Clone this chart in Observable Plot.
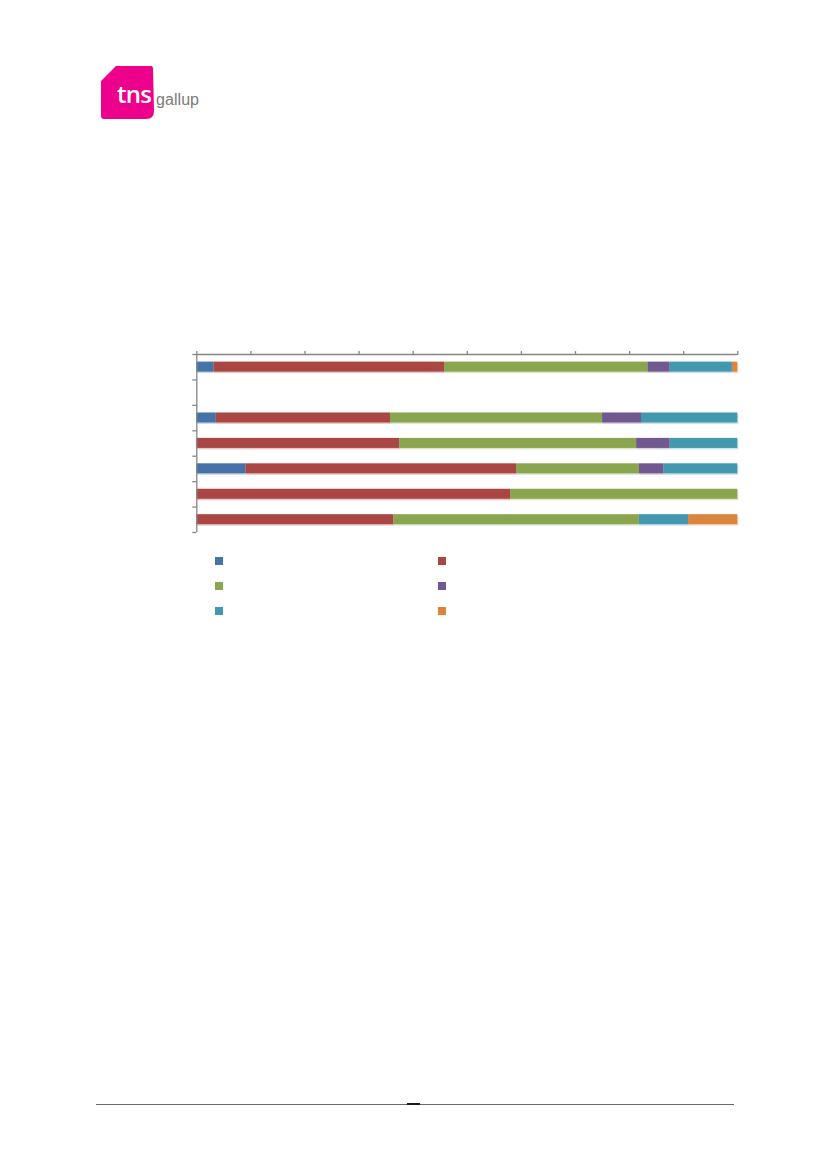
<!DOCTYPE html>
<html>
<head>
<meta charset="utf-8">
<script src="https://cdn.jsdelivr.net/npm/d3@7"></script>
<script src="https://cdn.jsdelivr.net/npm/@observablehq/plot@0.6"></script>
<style>
  html, body { margin: 0; padding: 0; background: #fff; }
  body { width: 827px; height: 1169px; position: relative; overflow: hidden; font-family: "Liberation Sans", Arial, sans-serif; }
  #logo { position: absolute; left: 0; top: 0; }
  #chart { position: absolute; left: 0; top: 330px; }
  .sw { position: absolute; width: 8px; height: 8px; }
  #footer { position: absolute; left: 96px; top: 1104px; width: 638px; height: 1px; background: #6b6b6b; }
  #footmark { position: absolute; left: 407px; top: 1103px; width: 13px; height: 2px; background: #1a1a1a; }
</style>
</head>
<body>
<svg id="logo" width="260" height="140">
  <path d="M116,66 L151,66 Q153,66 153,69 L154,111 Q154,119 146,119 L104,119 Q101,119 101,116 L101,81 Z" fill="#ec008c"/>
  <text x="117" y="103" font-family="Open Sans, Liberation Sans, Arial, sans-serif" font-weight="600" font-size="24" fill="#fff" letter-spacing="-0.8">tns</text>
  <text x="156" y="105" font-family="Liberation Sans, Arial, sans-serif" font-size="16" fill="#7a7a7a" textLength="43">gallup</text>
</svg>
<div id="chart"></div>
<div id="legend"></div>
<div id="footer"></div>
<div id="footmark"></div>
<script>
// Categories (no labels are shown in the reference)
const categories = ["Kategori 1", "Kategori 2", "Kategori 3", "Kategori 4", "Kategori 5", "Kategori 6", "Kategori 7"];
// Series names (legend labels are not visible in the reference)
const seriesNames = ["Serie 1", "Serie 2", "Serie 3", "Serie 4", "Serie 5", "Serie 6"];
const seriesColors = ["#4572A7", "#AA4643", "#89A54E", "#71588F", "#4198AF", "#DB843D"];
// Percent values per series, one value per category (top to bottom)
const serie1 = [3.2, 0, 3.6, 0, 9.1, 0, 0];
const serie2 = [42.6, 0, 32.2, 37.5, 50.0, 58.0, 36.4];
const serie3 = [37.6, 0, 39.2, 43.8, 22.7, 42.0, 45.4];
const serie4 = [4.1, 0, 7.2, 6.2, 4.5, 0, 0];
const serie5 = [11.5, 0, 17.8, 12.5, 13.7, 0, 9.1];
const serie6 = [1.0, 0, 0, 0, 0, 0, 9.1];
const xTicks = [0, 10, 20, 30, 40, 50, 60, 70, 80, 90, 100];

const allSeries = [serie1, serie2, serie3, serie4, serie5, serie6];
const rows = [];
categories.forEach((c, i) => {
  let acc = 0;
  allSeries.forEach((s, k) => {
    const v = s[i];
    if (v > 0) {
      rows.push({category: c, idx: i, series: seriesNames[k], x1: acc, x2: acc + v});
    }
    acc += v;
  });
});

const axisColor = "#868686";
const chart = Plot.plot({
  width: 827,
  height: 230,
  marginTop: 24,
  marginBottom: 28,
  marginLeft: 196.3,
  marginRight: 89.7,
  x: {domain: [0, 100], axis: null},
  y: {domain: [0, categories.length], reverse: true, axis: null},
  color: {domain: seriesNames, range: seriesColors},
  marks: [
    // soft shadow like the original
    Plot.rect(rows, {x1: "x1", x2: "x2", y1: "idx", y2: d => d.idx + 1, fill: "series", fillOpacity: 0.28, insetTop: 7.6, insetBottom: 7.8, dx: 1, dy: 1.5}),
    Plot.rect(rows, {x1: "x1", x2: "x2", y1: "idx", y2: d => d.idx + 1, fill: "series", insetTop: 7.6, insetBottom: 7.8}),
    Plot.ruleY([0], {stroke: axisColor, strokeWidth: 1.3}),
    Plot.ruleX([0], {stroke: axisColor, strokeWidth: 1.3}),
    Plot.axisX({anchor: "top", ticks: xTicks, tickSize: 4, tickFormat: () => "", stroke: axisColor, strokeOpacity: 1, strokeWidth: 1.3, label: null}),
    Plot.axisY({anchor: "left", ticks: d3.range(categories.length + 1), tickSize: 4, tickFormat: () => "", stroke: axisColor, strokeOpacity: 1, strokeWidth: 1.3, label: null})
  ]
});
document.getElementById("chart").appendChild(chart);

// Legend swatches (two columns, three rows)
const legend = document.getElementById("legend");
seriesNames.forEach((name, k) => {
  const col = k % 2, row = Math.floor(k / 2);
  const el = document.createElement("div");
  el.className = "sw";
  el.title = name;
  el.style.left = (col === 0 ? 215 : 438) + "px";
  el.style.top = (557 + row * 25) + "px";
  el.style.background = seriesColors[k];
  legend.appendChild(el);
});
</script>
</body>
</html>
